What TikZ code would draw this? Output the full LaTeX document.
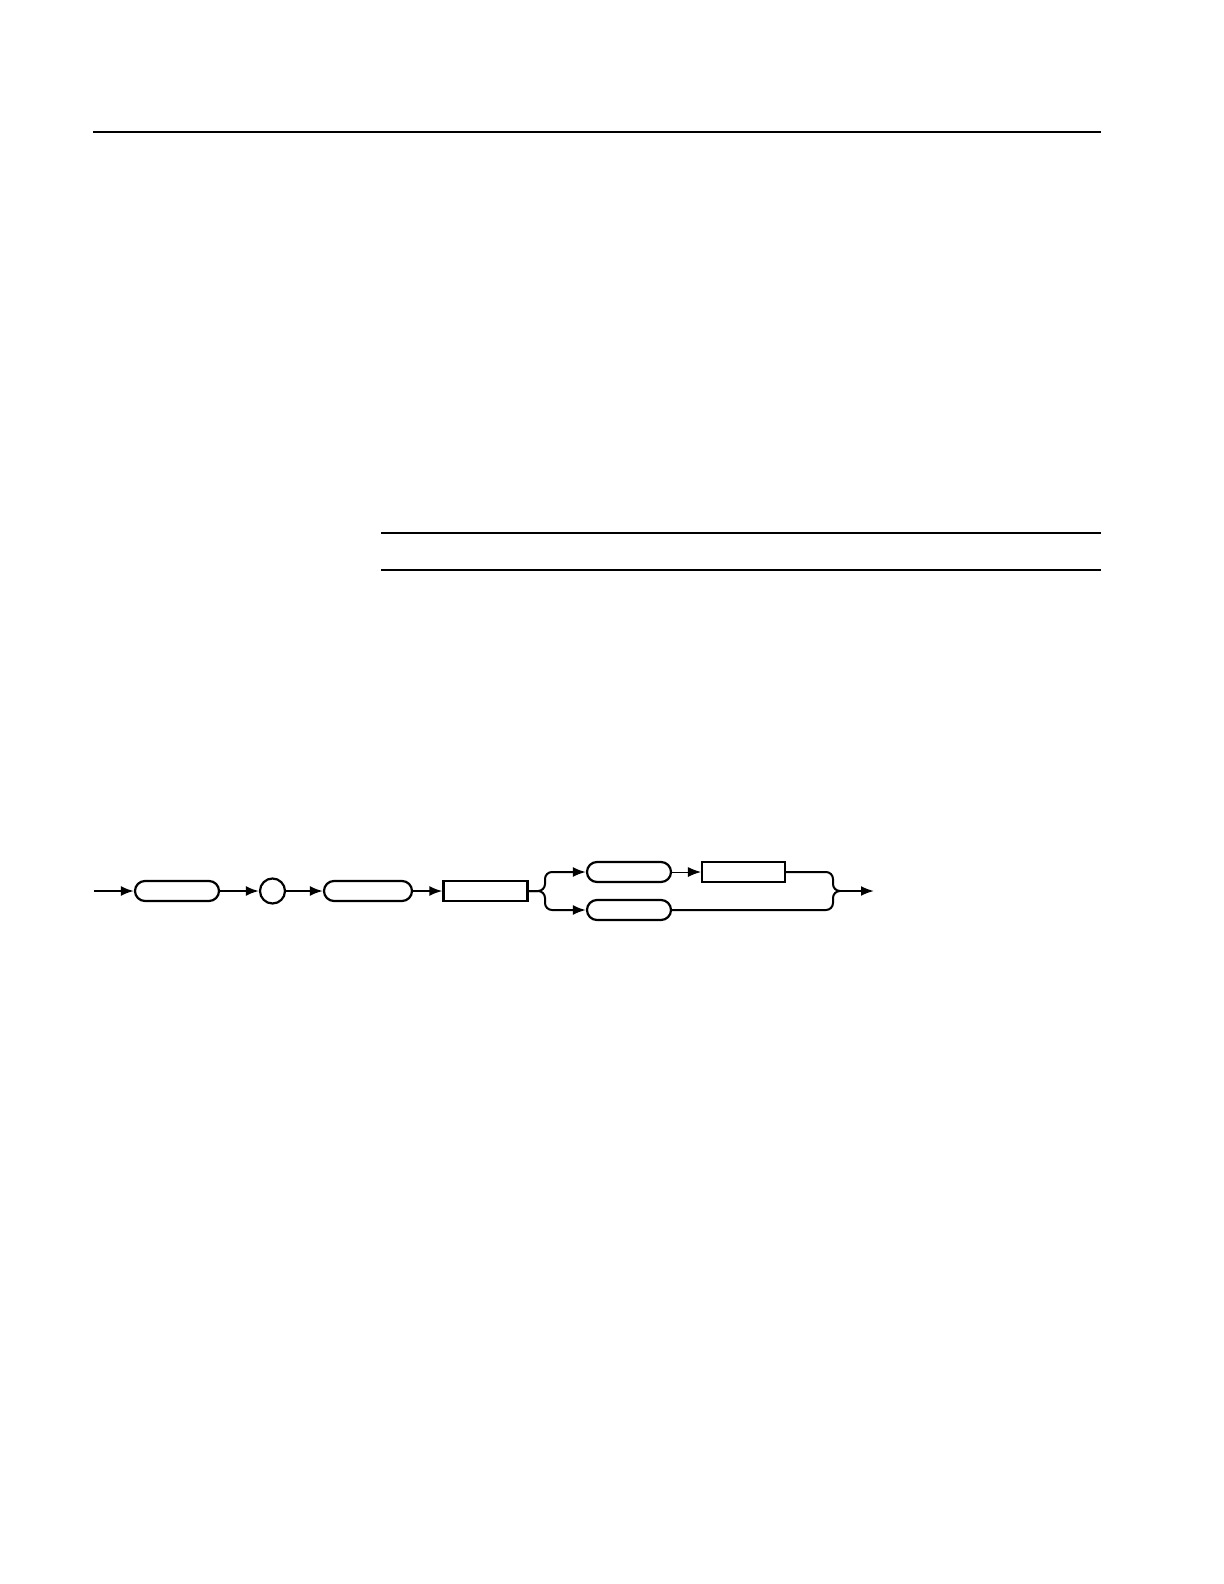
\documentclass[tikz,border=0pt]{standalone}
\usepackage{tikz}
\usetikzlibrary{arrows.meta}
\tikzset{
    node style kw/.style={draw,rounded corners=5pt,minimum width=42pt,minimum height=10pt,inner sep=0pt,line width=1.1pt},
    node style arg/.style={draw,rectangle,minimum width=42pt,minimum height=10pt,inner sep=0pt,line width=1.1pt},
    node style sep/.style={draw,circle,minimum size=12.5pt,inner sep=0pt,line width=1.1pt},
    rule style/.style={line width=0.6pt},
}
\begin{document}
\begin{tikzpicture}[x=0.5pt,y=-0.5pt,>={Latex[length=6.5pt,width=5pt]},line width=1pt]
\useasboundingbox (0,0) rectangle (1224,1584);
% page rules
\coordinate (r1a) at (93,132);  \coordinate (r1b) at (1101,132);
\coordinate (r2a) at (381,533); \coordinate (r2b) at (1101,533);
\coordinate (r3a) at (381,570); \coordinate (r3b) at (1101,570);
\draw [rule style] (r1a) -- (r1b);
\draw [rule style] (r2a) -- (r2b);
\draw [rule style] (r3a) -- (r3b);
%
\node [node style kw] (kwA) at (177,891) {};
\node [node style sep] (colon) at (272.5,891) {};
\node [node style kw,minimum width=44pt] (kwB) at (368,891) {};
\node [node style arg] (argA) at (485.5,891) {};
\node [node style kw] (kwC) at (629,872) {};
\node [node style arg,minimum width=41.5pt] (argB) at (743.5,872) {};
\node [node style kw] (kwD) at (629,910) {};
\coordinate (start) at (94,891);
\coordinate (join) at (840,891);
\coordinate (finish) at (874,891);
%
% %arrows of the main line
\draw [->] (start) -- (kwA.west);
\draw [->] (kwA.east) -- (colon.west);
\draw [->] (colon.east) -- (kwB.west);
\draw [->] (kwB.east) -- (argA.west);
% branches
\draw [->,rounded corners=3.5pt] (argA.east) -- (545,891) -- (545,872) -- (kwC.west);
\draw [->,rounded corners=3.5pt] (argA.east) -- (545,891) -- (545,910) -- (kwD.west);
\draw [->,line width=0.5pt] (kwC.east) -- (argB.west);
\draw [rounded corners=3.5pt] (argB.east) -- (833,872) -- (833,891) -- (join);
\draw [rounded corners=3.5pt] (kwD.east) -- (833,910) -- (833,891) -- (join);
\draw [->] (join) -- (finish);
\end{tikzpicture}
\end{document}
